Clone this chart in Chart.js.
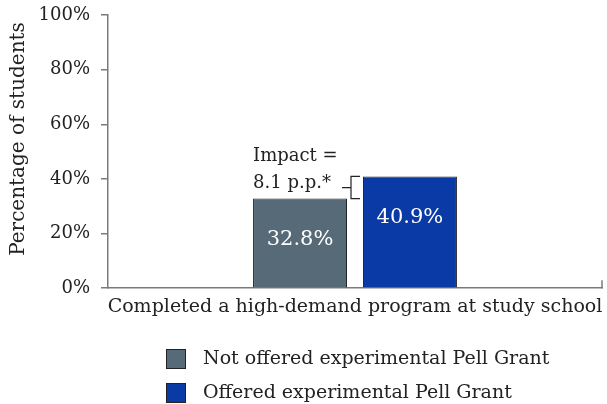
<!DOCTYPE html>
<html>
<head>
<meta charset="utf-8">
<script src="https://cdn.jsdelivr.net/npm/chart.js@4.4.1/dist/chart.umd.min.js"></script>
<style>
  html, body { margin: 0; padding: 0; background: #fff; }
  #wrap { width: 607px; height: 404px; position: relative; }
</style>
</head>
<body>
<div id="wrap"><canvas id="chart"></canvas></div>
<script>
// data
const categories = ['Completed a high-demand program at study school'];
const seriesNames = ['Not offered experimental Pell Grant', 'Offered experimental Pell Grant'];
const notOffered = [32.8];
const offered = [40.9];
const yTicks = [0, 20, 40, 60, 80, 100];
const yTitle = 'Percentage of students';
const impactText = ['Impact =', '8.1 p.p.*'];

const FONT = 'DejaVu Serif';
const gray = '#566a78';
const blue = '#0a3aa5';
const axisColor = '#7a7a7a';

// white values inside the bars + impact bracket
const barLabels = {
  id: 'barLabels',
  afterDatasetsDraw(chart) {
    const ctx = chart.ctx;
    ctx.save();
    ctx.font = '21px "' + FONT + '"';
    ctx.fillStyle = '#fff';
    ctx.textAlign = 'center';
    ctx.textBaseline = 'middle';
    chart.data.datasets.forEach(function (ds, i) {
      chart.getDatasetMeta(i).data.forEach(function (bar, j) {
        ctx.fillText(ds.data[j].toFixed(1) + '%', bar.x, bar.y + 41);
      });
    });

    // bracket between the two bar tops
    const y = chart.scales.y;
    const b0 = chart.getDatasetMeta(0).data[0];
    const b1 = chart.getDatasetMeta(1).data[0];
    const yHi = y.getPixelForValue(offered[0]);
    const yLo = y.getPixelForValue(notOffered[0]);
    const bx = (b0.x + b0.width / 2 + b1.x - b1.width / 2) / 2 - 4;
    ctx.strokeStyle = '#222';
    ctx.lineWidth = 1.2;
    ctx.beginPath();
    ctx.moveTo(bx + 9, yHi);
    ctx.lineTo(bx, yHi);
    ctx.lineTo(bx, yLo);
    ctx.lineTo(bx + 9, yLo);
    ctx.moveTo(bx, (yHi + yLo) / 2);
    ctx.lineTo(bx - 9, (yHi + yLo) / 2);
    ctx.stroke();

    ctx.fillStyle = '#222';
    ctx.font = '18px "' + FONT + '"';
    ctx.textAlign = 'left';
    const left = b0.x - b0.width / 2;
    ctx.fillText(impactText[0], left, yLo - 42);
    ctx.fillText(impactText[1], left, yLo - 15);
    ctx.restore();
  }
};

// y title, end tick of the x axis, two-row legend
const extras = {
  id: 'extras',
  afterDraw(chart) {
    const ctx = chart.ctx;
    const area = chart.chartArea;
    ctx.save();

    ctx.strokeStyle = axisColor;
    ctx.lineWidth = 1.5;
    ctx.beginPath();
    ctx.moveTo(area.right, area.bottom);
    ctx.lineTo(area.right, area.bottom - 8);
    ctx.stroke();

    ctx.fillStyle = '#222';
    ctx.font = '20px "' + FONT + '"';
    ctx.textAlign = 'center';
    ctx.textBaseline = 'middle';
    ctx.save();
    ctx.translate(19, 139);
    ctx.rotate(-Math.PI / 2);
    ctx.fillText(yTitle, 0, 0);
    ctx.restore();

    ctx.font = '19px "' + FONT + '"';
    ctx.textAlign = 'left';
    chart.data.datasets.forEach(function (ds, i) {
      const cy = 359 + i * 34;
      ctx.fillStyle = ds.backgroundColor;
      ctx.fillRect(166, cy - 10, 20, 20);
      ctx.strokeStyle = '#222';
      ctx.lineWidth = 1;
      ctx.strokeRect(166.5, cy - 9.5, 19, 19);
      ctx.fillStyle = '#222';
      ctx.fillText(ds.label, 203, cy);
    });
    ctx.restore();
  }
};

new Chart(document.getElementById('chart'), {
  type: 'bar',
  data: {
    labels: categories,
    datasets: [{
      label: seriesNames[0],
      data: notOffered,
      backgroundColor: gray,
      borderColor: '#222',
      borderWidth: 1
    },
    {
      label: seriesNames[1],
      data: offered,
      backgroundColor: blue,
      borderColor: '#222',
      borderWidth: 1
    }]
  },
  options: {
    responsive: true,
    maintainAspectRatio: false,
    animation: false,
    categoryPercentage: 0.445,
    barPercentage: 0.855,
    layout: {
      padding: { top: 15, right: 5, bottom: 87, left: 2 }
    },
    plugins: {
      legend: { display: false },
      tooltip: { enabled: false }
    },
    scales: {
      x: {
        grid: { display: false },
        border: { display: true, color: axisColor, width: 1.5 },
        ticks: {
          color: '#222',
          font: { family: FONT, size: 19 },
          padding: -1,
          maxRotation: 0,
          autoSkip: false
        }
      },
      y: {
        min: 0,
        max: 100,
        afterBuildTicks: function (scale) {
          scale.ticks = yTicks.map(function (v) { return { value: v }; });
        },
        afterFit: function (scale) {
          scale.width = 106;
          scale.paddingTop = 0;
          scale.paddingBottom = 0;
        },
        grid: {
          drawOnChartArea: false,
          tickLength: 7,
          color: axisColor,
          lineWidth: 1.5
        },
        border: { display: true, color: axisColor, width: 1.5 },
        ticks: {
          color: '#222',
          font: { family: FONT, size: 18 },
          padding: 11,
          callback: function (v) { return v + '%'; }
        }
      }
    }
  },
  plugins: [barLabels, extras]
});
</script>
</body>
</html>
